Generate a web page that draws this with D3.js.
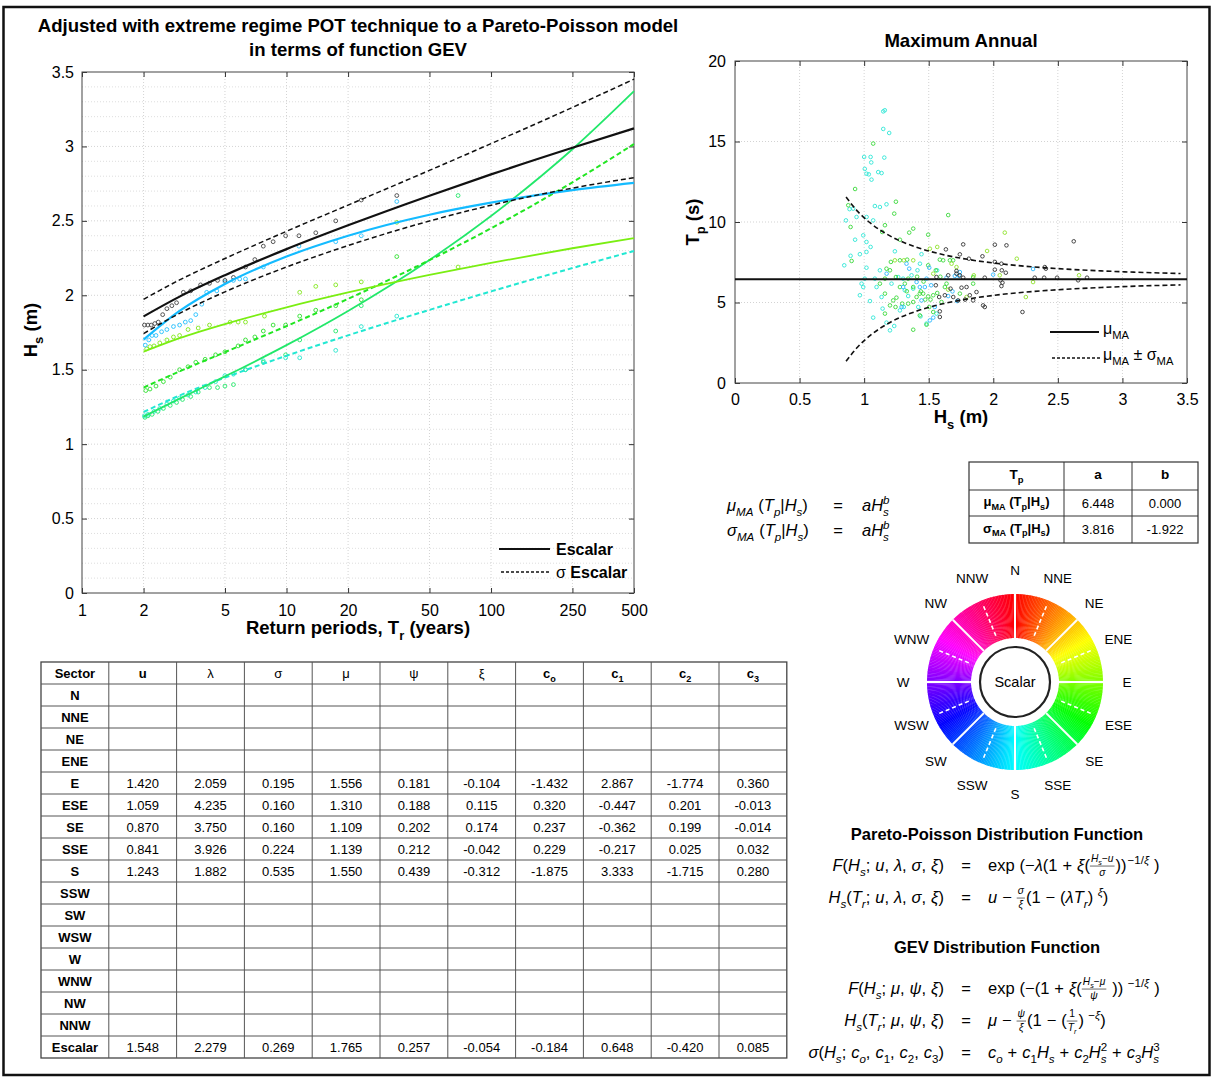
<!DOCTYPE html>
<html>
<head>
<meta charset="utf-8">
<script src="https://cdn.jsdelivr.net/npm/d3@7"></script>
<style>
  body { margin: 0; background: #fff; }
  svg { display: block; }
  text { font-family: "Liberation Sans", Arial, sans-serif; }
</style>
</head>
<body>
<svg id="fig" width="1214" height="1077"></svg>
<script>
// ---------------- data ----------------

// return period curves (left panel), H_s (m) at each return period
const returnPeriods = [2, 3, 5, 10, 20, 50, 100, 250, 500];
const hsEscalar   = [1.858, 1.991, 2.135, 2.310, 2.470, 2.669, 2.812, 2.991, 3.121];
const hsEscalarUp = [1.973, 2.103, 2.247, 2.430, 2.606, 2.839, 3.019, 3.262, 3.452];
const hsEscalarLo = [1.743, 1.879, 2.023, 2.190, 2.334, 2.499, 2.605, 2.720, 2.790];
const hsE   = [1.621, 1.712, 1.807, 1.919, 2.019, 2.137, 2.218, 2.316, 2.384];
const hsESE = [1.380, 1.489, 1.618, 1.793, 1.976, 2.236, 2.450, 2.759, 3.016];
const hsSE  = [1.185, 1.306, 1.455, 1.665, 1.895, 2.237, 2.533, 2.981, 3.371];
const hsSSE = [1.216, 1.327, 1.447, 1.594, 1.731, 1.902, 2.026, 2.183, 2.298];
const hsS   = [1.702, 1.895, 2.076, 2.260, 2.400, 2.541, 2.622, 2.706, 2.755];

// empirical points [Tr, Hs]
const ptsEscalar = [[2.02,1.80],[2.1,1.80],[2.18,1.80],[2.27,1.81],[2.36,1.82],[2.48,1.87],[2.6,1.91],[2.75,1.93],[2.9,1.95],[3.13,2.02],[3.4,2.03],[3.8,2.07],[4.2,2.08],[4.6,2.10],[5.0,2.10],[5.5,2.12],[6.3,2.19],[7.0,2.24],[7.7,2.33],[8.6,2.36],[9.9,2.40],[11.5,2.40],[13.9,2.42],[17.4,2.50],[23.2,2.64],[34.6,2.67]];
const ptsS = [[2.04,1.665],[2.12,1.70],[2.2,1.73],[2.3,1.73],[2.45,1.755],[2.6,1.77],[2.8,1.79],[3.0,1.80],[3.2,1.82],[3.4,1.83],[3.6,1.87],[3.85,1.94],[4.07,2.02],[4.56,2.03],[5.0,2.09],[5.5,2.10],[5.9,2.11],[6.3,2.11],[7.7,2.19],[11.5,2.33],[17.4,2.36],[23.2,2.40],[34.6,2.63]];
const ptsE = [[2.07,1.64],[2.15,1.655],[2.25,1.66],[2.4,1.68],[2.6,1.70],[2.8,1.72],[3.0,1.73],[3.3,1.77],[3.7,1.78],[4.2,1.80],[5.3,1.82],[5.8,1.82],[6.3,1.82],[7.8,1.86],[11.6,2.02],[13.9,2.06],[17.4,2.07],[23.2,2.09],[34.6,2.49],[69,2.19]];
const ptsESE = [[2.05,1.36],[2.15,1.37],[2.3,1.39],[2.5,1.42],[2.7,1.45],[3.0,1.50],[3.3,1.52],[3.6,1.55],[4.0,1.57],[4.5,1.60],[5.0,1.62],[5.8,1.66],[6.3,1.70],[7.0,1.72],[7.7,1.76],[8.6,1.80],[9.9,1.80],[11.6,1.86],[13.9,1.90],[17.4,1.93],[23.2,1.97],[34.6,2.26]];
const ptsSE = [[2.03,1.18],[2.1,1.19],[2.2,1.20],[2.35,1.22],[2.5,1.24],[2.7,1.26],[2.9,1.28],[3.1,1.30],[3.4,1.32],[3.7,1.35],[4.2,1.38],[4.6,1.38],[5.0,1.39],[5.5,1.40],[6.3,1.50],[7.7,1.55],[9.9,1.60],[11.6,1.70],[17.4,1.76],[23.2,1.93],[69,2.67]];
const ptsSSE = [[2.02,1.19],[2.1,1.20],[2.25,1.22],[2.4,1.24],[2.6,1.27],[2.8,1.29],[3.0,1.31],[3.3,1.33],[3.6,1.35],[4.0,1.38],[4.5,1.42],[5.0,1.46],[5.5,1.47],[6.3,1.50],[7.7,1.56],[9.9,1.58],[11.6,1.58],[17.4,1.63],[23.2,1.79],[34.6,1.86]];

const xTicksLeft = [1, 2, 5, 10, 20, 50, 100, 250, 500];

// maximum annual scatter [Hs, Tp]
const scBlack = [[2.623,8.80],[2.012,8.59],[2.102,8.55],[1.767,8.61],[1.633,8.30],[1.741,7.99],[1.811,7.72],[1.916,7.87],[2.012,7.52],[2.063,7.41],[2.012,7.04],[2.097,6.85],[2.066,7.00],[2.399,7.20],[2.407,7.10],[2.321,6.54],[2.394,6.54],[2.494,6.54],[2.726,6.54],[2.657,6.38],[1.934,6.54],[2.056,6.38],[2.063,6.02],[2.071,6.23],[1.715,6.96],[1.715,6.79],[1.767,6.54],[1.793,5.96],[1.754,5.92],[1.669,5.86],[1.555,6.07],[1.625,5.45],[1.581,5.34],[1.818,5.45],[1.844,5.13],[1.870,5.65],[1.921,4.82],[1.934,4.72],[1.728,5.13],[1.782,5.18],[1.586,4.45],[1.586,4.10],[2.226,4.41],[1.741,6.69],[1.651,6.69],[1.560,6.58],[1.690,5.34]];
const scSky = [[1.328,7.41],[1.349,7.10],[1.638,6.54],[1.702,6.65],[1.736,6.65],[1.741,6.89],[1.504,7.16],[1.519,6.07],[1.431,5.96],[1.444,5.13],[1.509,3.89],[1.535,4.06],[1.547,4.72],[1.651,5.40],[1.684,5.69],[1.720,5.09],[1.999,6.73],[2.308,7.08],[1.174,6.79],[1.302,5.96],[1.290,4.72],[1.406,6.27],[1.470,5.96],[1.483,6.48]];
const scCyan = [[1.148,16.87],[1.160,16.94],[1.148,15.78],[1.194,15.53],[1.000,14.04],[1.050,14.04],[1.055,13.70],[1.156,14.00],[1.005,13.30],[1.018,13.00],[1.036,12.96],[1.109,13.10],[1.135,13.04],[1.057,12.63],[1.173,11.10],[1.083,10.99],[1.122,10.93],[0.887,10.80],[0.915,10.83],[0.859,10.10],[0.941,10.31],[1.019,10.31],[1.070,10.10],[0.993,9.17],[1.018,8.76],[1.050,8.45],[1.018,8.14],[0.967,8.00],[1.238,8.18],[0.846,7.31],[1.018,7.16],[1.122,7.00],[1.444,8.00],[1.565,7.00],[0.967,5.45],[0.993,5.96],[0.980,6.17],[1.005,6.48],[1.045,5.09],[1.070,4.06],[1.143,4.62],[1.173,3.75],[1.200,3.27],[1.233,3.54],[1.277,4.51],[1.307,4.72],[1.341,5.40],[1.380,5.86],[1.135,5.34],[1.096,5.96],[1.083,6.48],[1.212,6.17],[1.264,6.58],[1.302,6.48],[1.432,7.41],[1.413,7.00],[1.367,6.69],[1.315,5.76],[1.419,4.72],[1.437,4.14],[1.483,3.69],[1.560,4.31],[0.895,7.90],[0.930,8.90]];
const scGreen = [[1.070,14.87],[0.930,12.05],[1.246,11.26],[1.233,10.52],[0.877,11.04],[1.161,9.80],[0.895,9.69],[1.140,9.38],[1.277,8.90],[1.380,9.59],[1.349,9.34],[1.651,10.43],[1.496,9.21],[0.903,7.58],[1.173,7.10],[1.207,7.52],[1.277,7.62],[1.333,7.66],[1.496,7.31],[1.612,7.62],[1.689,7.62],[1.161,6.48],[1.200,7.00],[1.246,6.58],[1.277,5.96],[1.315,6.17],[1.341,6.48],[1.380,5.96],[1.406,5.34],[1.439,5.69],[1.457,5.55],[1.496,5.38],[1.514,5.18],[1.535,5.45],[1.566,5.59],[1.341,4.93],[1.295,4.93],[1.243,4.72],[1.200,4.82],[1.161,4.31],[1.225,5.13],[1.380,5.03],[1.431,5.55],[1.473,5.18],[1.504,4.72],[1.535,4.41],[1.599,5.03],[1.625,5.96],[1.638,6.17],[1.431,4.20],[1.380,3.31],[1.483,3.62],[1.664,7.62],[1.586,7.66],[1.555,7.00],[1.844,6.58],[1.844,6.17],[1.741,5.55],[1.161,5.55],[1.122,6.17],[1.250,5.30],[1.330,5.70],[1.460,6.30],[1.590,6.60],[1.410,6.60]];
const scLime = [[2.089,9.34],[1.952,8.20],[2.182,7.72],[2.664,6.69],[2.308,6.27],[2.252,5.34],[2.050,6.69],[1.849,6.69],[1.677,7.41],[1.566,8.45],[1.509,8.34],[1.380,7.62],[1.307,7.62],[1.651,5.80],[1.793,5.34],[1.238,7.62],[1.715,7.20],[1.535,6.79]];

// mu_MA and mu_MA +/- sigma_MA
const muMA = 6.448;
const hsBand   = [0.86, 0.95, 1.05, 1.2, 1.4, 1.6, 1.8, 2.0, 2.3, 2.6, 3.0, 3.45];
const tpUpper  = [11.546, 10.659, 9.923, 9.136, 8.447, 7.994, 7.681, 7.455, 7.218, 7.056, 6.910, 6.801];
const tpLower  = [1.350, 2.237, 2.973, 3.760, 4.449, 4.902, 5.215, 5.441, 5.678, 5.840, 5.986, 6.095];

// parameter tables
const tpTableHead = ["T_p", "a", "b"];
const tpTableRows = [["μ_{MA} (T_p|H_s)", "6.448", "0.000"], ["σ_{MA} (T_p|H_s)", "3.816", "-1.922"]];

const paramHead = ["Sector", "u", "λ", "σ", "μ", "ψ", "ξ", "c_o", "c_1", "c_2", "c_3"];
const sectors = ["N","NNE","NE","ENE","E","ESE","SE","SSE","S","SSW","SW","WSW","W","WNW","NW","NNW","Escalar"];
const paramValues = {
  E:       ["1.420","2.059","0.195","1.556","0.181","-0.104","-1.432","2.867","-1.774","0.360"],
  ESE:     ["1.059","4.235","0.160","1.310","0.188","0.115","0.320","-0.447","0.201","-0.013"],
  SE:      ["0.870","3.750","0.160","1.109","0.202","0.174","0.237","-0.362","0.199","-0.014"],
  SSE:     ["0.841","3.926","0.224","1.139","0.212","-0.042","0.229","-0.217","0.025","0.032"],
  S:       ["1.243","1.882","0.535","1.550","0.439","-0.312","-1.875","3.333","-1.715","0.280"],
  Escalar: ["1.548","2.279","0.269","1.765","0.257","-0.054","-0.184","0.648","-0.420","0.085"]
};

const wheelSectors = ["N","NNE","NE","ENE","E","ESE","SE","SSE","S","SSW","SW","WSW","W","WNW","NW","NNW"];

// ---------------- helpers: small math typesetter ----------------
const SANS = '"Liberation Sans", Arial, sans-serif';
const SERIF = '"Liberation Serif", "DejaVu Serif", serif';

function parseMath(str) {
  const out = [];
  let i = 0;
  const group = () => {
    if (str[i] === "{") {
      let depth = 1, j = i + 1;
      while (depth) { if (str[j] === "{") depth++; else if (str[j] === "}") depth--; j++; }
      const s = str.slice(i + 1, j - 1); i = j; return s;
    }
    return str[i++];
  };
  while (i < str.length) {
    const c = str[i];
    if (str.startsWith("\\frac", i)) { i += 5; const n = group(); const d = group(); out.push({frac: [parseMath(n), parseMath(d)]}); }
    else if (c === "_" || c === "^") { i++; out.push({[c === "_" ? "sub" : "sup"]: parseMath(group())}); }
    else if (c === "`") { const j = str.indexOf("`", i + 1); out.push({s: str.slice(i + 1, j), it: false, lit: true}); i = j + 1; }
    else if (c === " ") { out.push({space: true}); i++; }
    else {
      const it = /[A-Za-z\u03b1-\u03c9]/.test(c);
      const last = out[out.length - 1];
      if (last && last.s !== undefined && last.it === it && !last.lit) last.s += c;
      else out.push({s: c, it: it});
      i++;
    }
  }
  return out;
}

function renderMath(g, toks, x, y, size, opt) {
  let cx = x;
  for (let k = 0; k < toks.length; k++) {
    const t = toks[k];
    if (t.space) { cx += size * (opt.space || 0.25); continue; }
    if (t.sub) {
      const w1 = renderMath(g, t.sub, cx, y + size * 0.3, size * 0.7, opt);
      let w2 = 0;
      if (toks[k + 1] && toks[k + 1].sup) { w2 = renderMath(g, toks[k + 1].sup, cx, y - size * 0.42, size * 0.7, opt); k++; }
      cx += Math.max(w1, w2); continue;
    }
    if (t.sup) { cx += renderMath(g, t.sup, cx + 1, y - size * 0.45, size * 0.7, opt) + 1; continue; }
    if (t.frac) {
      const fs = size * 0.62;
      const gn = g.append("g"), gd = g.append("g");
      const wn = renderMath(gn, t.frac[0], 0, 0, fs, opt);
      const wd = renderMath(gd, t.frac[1], 0, 0, fs, opt);
      const w = Math.max(wn, wd) + 2;
      const ax = y - size * 0.3;
      gn.attr("transform", `translate(${cx + 1 + (w - 2 - wn) / 2},${ax - 4})`);
      gd.attr("transform", `translate(${cx + 1 + (w - 2 - wd) / 2},${ax + fs * 0.95})`);
      g.append("line").attr("x1", cx).attr("x2", cx + w).attr("y1", ax).attr("y2", ax)
        .attr("stroke", "#000").attr("stroke-width", 0.6);
      cx += w + 1; continue;
    }
    const el = g.append("text").attr("x", cx).attr("y", y)
      .attr("font-size", size).attr("font-family", opt.family)
      .attr("font-weight", opt.weight || "normal")
      .attr("font-style", t.it && opt.italic ? "italic" : "normal")
      .attr("fill", "#000").text(t.s);
    cx += el.node().getComputedTextLength();
  }
  return cx - x;
}

function mathLabel(g, str, x, y, size, opt, anchor) {
  const grp = g.append("g");
  const w = renderMath(grp, parseMath(str), 0, 0, size, opt);
  const dx = anchor === "end" ? -w : anchor === "middle" ? -w / 2 : 0;
  grp.attr("transform", `translate(${x + dx},${y})`);
  return grp;
}

const sansBold = {family: SANS, weight: "bold", italic: false, space: 0.28};
const sansReg  = {family: SANS, weight: "normal", italic: false, space: 0.28};
const mathOpt  = {family: SERIF, italic: true, space: 0.3};

// ---------------- figure ----------------
const svg = d3.select("#fig");
svg.append("rect").attr("x", 3.5).attr("y", 7).attr("width", 1206).attr("height", 1068)
  .attr("fill", "#fff").attr("stroke", "#111").attr("stroke-width", 2.5);

// ===== left panel: return period curves =====
const xL = d3.scaleLog().domain([1, 500]).range([82, 634]);
const yL = d3.scaleLinear().domain([0, 3.5]).range([593, 72]);
const left = svg.append("g");

left.append("text").attr("x", 358).attr("y", 32).attr("text-anchor", "middle")
  .attr("font-size", 18.6).attr("font-weight", "bold")
  .text("Adjusted with extreme regime POT technique to a Pareto-Poisson model");
left.append("text").attr("x", 358).attr("y", 56).attr("text-anchor", "middle")
  .attr("font-size", 18.6).attr("font-weight", "bold").text("in terms of function GEV");

// grid
d3.range(1, 35).forEach(i => {
  const v = i / 10;
  left.append("line").attr("x1", xL(1)).attr("x2", xL(500)).attr("y1", yL(v)).attr("y2", yL(v))
    .attr("stroke", i % 5 === 0 ? "#c8c8c8" : "#d6d6d6").attr("stroke-width", 0.8).attr("stroke-dasharray", "1,2");
});
xTicksLeft.slice(1, -1).forEach(t => {
  left.append("line").attr("x1", xL(t)).attr("x2", xL(t)).attr("y1", yL(0)).attr("y2", yL(3.5))
    .attr("stroke", "#c8c8c8").attr("stroke-width", 0.8).attr("stroke-dasharray", "1,2");
});

// axes with inward ticks
left.append("g").attr("transform", `translate(0,${yL(0)})`)
  .call(d3.axisBottom(xL).tickValues(xTicksLeft).tickFormat(d3.format("d")).tickSizeInner(-5).tickSizeOuter(0).tickPadding(12))
  .call(g => { g.select(".domain").remove(); g.selectAll("text").attr("font-size", 16).attr("font-family", SANS).attr("fill", "#000"); });
left.append("g").attr("transform", `translate(0,${yL(3.5)})`)
  .call(d3.axisTop(xL).tickValues(xTicksLeft).tickFormat("").tickSizeInner(-5).tickSizeOuter(0))
  .call(g => g.select(".domain").remove());
left.append("g").attr("transform", `translate(${xL(1)},0)`)
  .call(d3.axisLeft(yL).tickValues(d3.range(0, 3.51, 0.5)).tickFormat(d => d === 0 ? "0" : d3.format("~g")(d)).tickSizeInner(-5).tickSizeOuter(0).tickPadding(8))
  .call(g => { g.select(".domain").remove(); g.selectAll("text").attr("font-size", 16).attr("font-family", SANS).attr("fill", "#000"); });
left.append("g").attr("transform", `translate(${xL(500)},0)`)
  .call(d3.axisRight(yL).tickValues(d3.range(0, 3.51, 0.5)).tickFormat("").tickSizeInner(-5).tickSizeOuter(0))
  .call(g => g.select(".domain").remove());
left.selectAll(".tick line").attr("stroke", "#333");
left.append("rect").attr("x", xL(1)).attr("y", yL(3.5)).attr("width", xL(500) - xL(1)).attr("height", yL(0) - yL(3.5))
  .attr("fill", "none").attr("stroke", "#444").attr("stroke-width", 1);

// labels
mathLabel(left, "Return periods, T_r (years)", 358, 634, 18.5, sansBold, "middle");
const yLab = left.append("g").attr("transform", "translate(37,330) rotate(-90)");
mathLabel(yLab, "H_s (m)", 0, 0, 18.5, sansBold, "middle");

// empirical points
const ptSeries = [
  {pts: ptsSE, color: "#22e86a"}, {pts: ptsSSE, color: "#22e6cc"}, {pts: ptsESE, color: "#2ee02e"},
  {pts: ptsE, color: "#80e81a"}, {pts: ptsS, color: "#22c0ff"}, {pts: ptsEscalar, color: "#444"}
];
ptSeries.forEach(s => {
  left.append("g").selectAll("circle").data(s.pts).join("circle")
    .attr("cx", d => xL(d[0])).attr("cy", d => yL(d[1])).attr("r", 1.9)
    .attr("fill", "none").attr("stroke", s.color).attr("stroke-width", 0.9);
});

// fitted curves
const curveLine = d3.line().x(d => xL(d[0])).y(d => yL(d[1])).curve(d3.curveMonotoneX);
const curves = [
  {v: hsSSE, color: "#22e8d2", dash: "5,3", w: 2},
  {v: hsSE, color: "#22e86a", dash: null, w: 1.8},
  {v: hsESE, color: "#22e622", dash: "5,3", w: 2},
  {v: hsE, color: "#7aee12", dash: null, w: 1.8},
  {v: hsS, color: "#14bbff", dash: null, w: 2.2},
  {v: hsEscalarUp, color: "#111", dash: "5,3", w: 1.5},
  {v: hsEscalarLo, color: "#111", dash: "5,3", w: 1.5},
  {v: hsEscalar, color: "#111", dash: null, w: 2.2}
];
curves.forEach(c => {
  left.append("path").datum(returnPeriods.map((t, i) => [t, c.v[i]]))
    .attr("d", curveLine).attr("fill", "none").attr("stroke", c.color)
    .attr("stroke-width", c.w).attr("stroke-dasharray", c.dash);
});

// legend
left.append("line").attr("x1", 499).attr("x2", 550).attr("y1", 549).attr("y2", 549).attr("stroke", "#111").attr("stroke-width", 2);
left.append("line").attr("x1", 501).attr("x2", 550).attr("y1", 572).attr("y2", 572).attr("stroke", "#111").attr("stroke-width", 1.3).attr("stroke-dasharray", "3,2");
left.append("text").attr("x", 556).attr("y", 555).attr("font-size", 16).attr("font-weight", "bold").text("Escalar");
left.append("text").attr("x", 556).attr("y", 578).attr("font-size", 16)
  .call(t => { t.append("tspan").text("σ "); t.append("tspan").attr("font-weight", "bold").text("Escalar"); });

// ===== right panel: maximum annual scatter =====
const xS = d3.scaleLinear().domain([0, 3.5]).range([735, 1187]);
const yS = d3.scaleLinear().domain([0, 20]).range([383, 61]);
const right = svg.append("g");

right.append("text").attr("x", 961).attr("y", 47).attr("text-anchor", "middle")
  .attr("font-size", 18.6).attr("font-weight", "bold").text("Maximum Annual");

d3.range(0.5, 3.5, 0.5).forEach(v => {
  right.append("line").attr("x1", xS(v)).attr("x2", xS(v)).attr("y1", yS(0)).attr("y2", yS(20))
    .attr("stroke", "#c8c8c8").attr("stroke-width", 0.8).attr("stroke-dasharray", "1,2");
});
[5, 10, 15].forEach(v => {
  right.append("line").attr("x1", xS(0)).attr("x2", xS(3.5)).attr("y1", yS(v)).attr("y2", yS(v))
    .attr("stroke", "#c8c8c8").attr("stroke-width", 0.8).attr("stroke-dasharray", "1,2");
});
right.append("g").attr("transform", `translate(0,${yS(0)})`)
  .call(d3.axisBottom(xS).tickValues(d3.range(0, 3.51, 0.5)).tickFormat(d3.format("~g")).tickSizeInner(-5).tickSizeOuter(0).tickPadding(11))
  .call(g => { g.select(".domain").remove(); g.selectAll("text").attr("font-size", 16).attr("font-family", SANS).attr("fill", "#000"); });
right.append("g").attr("transform", `translate(0,${yS(20)})`)
  .call(d3.axisTop(xS).tickValues(d3.range(0, 3.51, 0.5)).tickFormat("").tickSizeInner(-5).tickSizeOuter(0))
  .call(g => g.select(".domain").remove());
right.append("g").attr("transform", `translate(${xS(0)},0)`)
  .call(d3.axisLeft(yS).tickValues([0, 5, 10, 15, 20]).tickSizeInner(-5).tickSizeOuter(0).tickPadding(9))
  .call(g => { g.select(".domain").remove(); g.selectAll("text").attr("font-size", 16).attr("font-family", SANS).attr("fill", "#000"); });
right.append("g").attr("transform", `translate(${xS(3.5)},0)`)
  .call(d3.axisRight(yS).tickValues([0, 5, 10, 15, 20]).tickFormat("").tickSizeInner(-5).tickSizeOuter(0))
  .call(g => g.select(".domain").remove());
right.selectAll(".tick line").attr("stroke", "#333");
right.append("rect").attr("x", xS(0)).attr("y", yS(20)).attr("width", xS(3.5) - xS(0)).attr("height", yS(0) - yS(20))
  .attr("fill", "none").attr("stroke", "#444").attr("stroke-width", 1);

mathLabel(right, "H_s (m)", 961, 423, 18.5, sansBold, "middle");
const tpLab = right.append("g").attr("transform", "translate(699,222) rotate(-90)");
mathLabel(tpLab, "T_p (s)", 0, 0, 18.5, sansBold, "middle");

const scSeries = [
  {pts: scCyan, color: "#2ee6d6"}, {pts: scGreen, color: "#3ad83a"}, {pts: scSky, color: "#2ab8ff"},
  {pts: scLime, color: "#8ee22a"}, {pts: scBlack, color: "#333"}
];
scSeries.forEach(s => {
  right.append("g").selectAll("circle").data(s.pts).join("circle")
    .attr("cx", d => xS(d[0])).attr("cy", d => yS(d[1])).attr("r", 1.8)
    .attr("fill", "none").attr("stroke", s.color).attr("stroke-width", 0.9);
});

right.append("line").attr("x1", xS(0)).attr("x2", xS(3.5)).attr("y1", yS(muMA)).attr("y2", yS(muMA))
  .attr("stroke", "#111").attr("stroke-width", 2);
const bandLine = d3.line().x(d => xS(d[0])).y(d => yS(d[1])).curve(d3.curveMonotoneX);
[tpUpper, tpLower].forEach(arr => {
  right.append("path").datum(hsBand.map((h, i) => [h, arr[i]])).attr("d", bandLine)
    .attr("fill", "none").attr("stroke", "#111").attr("stroke-width", 1.6).attr("stroke-dasharray", "5,3");
});

// legend
right.append("line").attr("x1", 1050).attr("x2", 1099).attr("y1", 332).attr("y2", 332).attr("stroke", "#111").attr("stroke-width", 2);
right.append("line").attr("x1", 1052).attr("x2", 1100).attr("y1", 358).attr("y2", 358).attr("stroke", "#111").attr("stroke-width", 1.3).attr("stroke-dasharray", "3,2");
mathLabel(right, "μ_{MA}", 1103, 334, 16, sansReg, "start");
mathLabel(right, "μ_{MA} ± σ_{MA}", 1103, 360, 16, sansReg, "start");

// ===== sigma/mu MA formulas and table =====
const mid = svg.append("g");
[["μ_{MA} (T_p|H_s)", 511], ["σ_{MA} (T_p|H_s)", 536]].forEach(([s, y]) => {
  mathLabel(mid, s, 727, y, 16.5, mathOpt, "start");
  mid.append("text").attr("x", 838).attr("y", y).attr("text-anchor", "middle").attr("font-size", 16.5).attr("font-family", SERIF).text("=");
  mathLabel(mid, "aH_s^b", 862, y, 16.5, mathOpt, "start");
});

const tcx = [969, 1064, 1132, 1198], tcy = [462, 490, 516, 543];
mid.append("rect").attr("x", tcx[0]).attr("y", tcy[0]).attr("width", tcx[3] - tcx[0]).attr("height", tcy[3] - tcy[0])
  .attr("fill", "none").attr("stroke", "#333").attr("stroke-width", 1.2);
tcx.slice(1, 3).forEach(x => mid.append("line").attr("x1", x).attr("x2", x).attr("y1", tcy[0]).attr("y2", tcy[3]).attr("stroke", "#333"));
tcy.slice(1, 3).forEach(y => mid.append("line").attr("x1", tcx[0]).attr("x2", tcx[3]).attr("y1", y).attr("y2", y).attr("stroke", "#333"));
tpTableHead.forEach((h, j) => mathLabel(mid, h, (tcx[j] + tcx[j + 1]) / 2, 479, 13.5, sansBold, "middle"));
tpTableRows.forEach((row, i) => {
  const yb = (tcy[i + 1] + tcy[i + 2]) / 2 + 4;
  mathLabel(mid, row[0], (tcx[0] + tcx[1]) / 2, yb - 1, 13, sansBold, "middle");
  row.slice(1).forEach((v, j) => mid.append("text").attr("x", (tcx[j + 1] + tcx[j + 2]) / 2).attr("y", yb + 0.5)
    .attr("text-anchor", "middle").attr("font-size", 13).text(v));
});

// ===== colour wheel =====
const wheel = svg.append("g").attr("transform", "translate(1015,682)");
const rIn = 44, rOut = 88;
const arc = d3.arc().innerRadius(rIn).outerRadius(rOut);
d3.range(0, 360, 1).forEach(a => {
  wheel.append("path")
    .attr("d", arc({startAngle: (a - 0.1) * Math.PI / 180, endAngle: (a + 1.1) * Math.PI / 180}))
    .attr("fill", d3.hsl(a + 0.5, 1, 0.5));
});
wheelSectors.forEach((s, i) => {
  const ang = i * 22.5 * Math.PI / 180;
  const sx = Math.sin(ang), sy = -Math.cos(ang);
  const major = i % 2 === 0;
  wheel.append("line")
    .attr("x1", sx * (major ? rIn : rIn + 6)).attr("y1", sy * (major ? rIn : rIn + 6))
    .attr("x2", sx * (major ? rOut : rOut - 3)).attr("y2", sy * (major ? rOut : rOut - 3))
    .attr("stroke", "#fff").attr("stroke-width", major ? 2 : 1.6)
    .attr("stroke-dasharray", major ? null : "4,3");
  wheel.append("text").attr("x", sx * 112).attr("y", sy * 112).attr("dy", "0.35em")
    .attr("text-anchor", "middle").attr("font-size", 13.5).text(s);
});
wheel.append("circle").attr("r", 35).attr("fill", "#fff").attr("stroke", "#222").attr("stroke-width", 2.2);
wheel.append("text").attr("dy", "0.35em").attr("text-anchor", "middle").attr("font-size", 14.5).text("Scalar");

// ===== bottom table of parameters =====
const tab = svg.append("g");
const tx0 = 41, colW = 67.8, rowH = 22, ty0 = 662;
const nCols = paramHead.length, nRows = sectors.length + 1;
tab.append("rect").attr("x", tx0).attr("y", ty0).attr("width", colW * nCols).attr("height", rowH * nRows)
  .attr("fill", "none").attr("stroke", "#444").attr("stroke-width", 1.3);
d3.range(1, nCols).forEach(j => tab.append("line").attr("x1", tx0 + j * colW).attr("x2", tx0 + j * colW)
  .attr("y1", ty0).attr("y2", ty0 + rowH * nRows).attr("stroke", "#555"));
d3.range(1, nRows).forEach(i => tab.append("line").attr("x1", tx0).attr("x2", tx0 + colW * nCols)
  .attr("y1", ty0 + i * rowH).attr("y2", ty0 + i * rowH).attr("stroke", "#555"));
paramHead.forEach((h, j) => {
  const greek = /^[λσμψξ]$/.test(h);
  mathLabel(tab, h, tx0 + (j + 0.5) * colW, ty0 + 16, 13, greek ? sansReg : sansBold, "middle");
});
sectors.forEach((s, i) => {
  const yb = ty0 + (i + 1) * rowH + 16;
  tab.append("text").attr("x", tx0 + colW / 2).attr("y", yb).attr("text-anchor", "middle")
    .attr("font-size", 13).attr("font-weight", "bold").text(s);
  (paramValues[s] || []).forEach((v, j) => {
    tab.append("text").attr("x", tx0 + (j + 1.5) * colW).attr("y", yb).attr("text-anchor", "middle")
      .attr("font-size", 13).text(v);
  });
});

// ===== distribution functions =====
const fx = svg.append("g");
fx.append("text").attr("x", 997).attr("y", 840).attr("text-anchor", "middle").attr("font-size", 16.5).attr("font-weight", "bold")
  .text("Pareto-Poisson Distribution Function");
fx.append("text").attr("x", 997).attr("y", 953).attr("text-anchor", "middle").attr("font-size", 16.5).attr("font-weight", "bold")
  .text("GEV Distribution Function");
const eqs = [
  ["F(H_s; u, λ, σ, ξ)", "`exp` (−λ(1 + ξ(\\frac{H_s−u}{σ}))^{−1/ξ} )", 871],
  ["H_s(T_r; u, λ, σ, ξ)", "u − \\frac{σ}{ξ}(1 − (λT_r)^{ ξ})", 903],
  ["F(H_s; μ, ψ, ξ)", "`exp` (−(1 + ξ(\\frac{H_s−μ}{ψ} ))^{ −1/ξ} )", 994],
  ["H_s(T_r; μ, ψ, ξ)", "μ − \\frac{ψ}{ξ}(1 − (\\frac{1}{T_r})^{ −ξ})", 1026],
  ["σ(H_s; c_o, c_1, c_2, c_3)", "c_o + c_1H_s + c_2H_s^2 + c_3H_s^3", 1058]
];
eqs.forEach(([lhs, rhs, y]) => {
  mathLabel(fx, lhs, 944, y, 16.5, mathOpt, "end");
  fx.append("text").attr("x", 966).attr("y", y).attr("text-anchor", "middle").attr("font-size", 16.5).attr("font-family", SERIF).text("=");
  mathLabel(fx, rhs, 988, y, 16.5, mathOpt, "start");
});
</script>
</body>
</html>
